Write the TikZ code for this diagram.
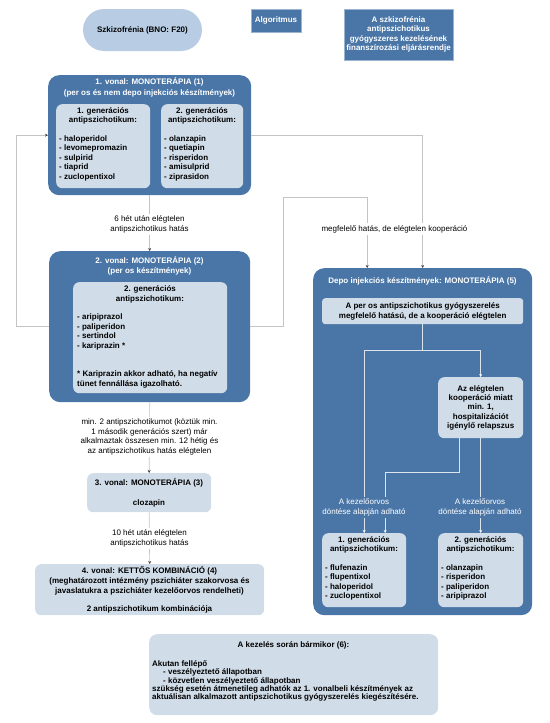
\documentclass[tikz,border=0pt]{standalone}
\usepackage{fontspec}
\setmainfont{Liberation Sans}
\usetikzlibrary{arrows.meta,calc}
\definecolor{dblue}{HTML}{4A76A7}
\definecolor{lblue}{HTML}{D0DCE8}
\definecolor{pblue}{HTML}{B8CDE4}
\definecolor{lgray}{HTML}{C4C4C4}
\definecolor{iline}{HTML}{DCE4EE}
\begin{document}
\begin{tikzpicture}[x=1pt,y=-1pt,
  every node/.style={font=\fontsize{8}{9.5}\selectfont, inner sep=0pt},
  darkbox/.style={fill=dblue, rounded corners=11pt, anchor=north west},
  lightbox/.style={fill=lblue, rounded corners=6pt, anchor=north west},
  btxt/.style={font=\fontsize{8}{9.5}\selectfont\bfseries, align=center},
  wtxt/.style={btxt, text=white},
  ltxt/.style={font=\fontsize{8}{9.5}\selectfont\bfseries, align=left, anchor=west},
  lbl/.style={font=\fontsize{8}{9.5}\selectfont, align=center, fill=white, inner sep=2pt},
  dlbl/.style={lbl, fill=dblue, text=white},
  conn/.style={draw=lgray, line width=0.7pt, -{Stealth[length=3pt,width=3pt,color=black!75]}},
  iconn/.style={draw=iline, line width=0.7pt, -{Stealth[length=3pt,width=3pt,color=white]}},
]
\useasboundingbox (0,0) rectangle (549,723);

% top row
\node[fill=pblue, rounded corners=21pt, minimum width=119pt, minimum height=42pt, btxt] (pill) at (142.5,30) {Szkizofrénia (BNO: F20)};
\node[fill=dblue, draw=dblue!55!white, line width=0.5pt, minimum width=50pt, minimum height=23pt, wtxt] (alg) at (276,20.5) {Algoritmus};
\node[fill=dblue, draw=dblue!55!white, line width=0.5pt, minimum width=109pt, minimum height=51pt, wtxt] (ttl) at (398.5,34.5) {A szkizofrénia\\antipszichotikus\\gyógyszeres kezelésének\\finanszírozási eljárásrendje};

% box 1
\node[darkbox, minimum width=203pt, minimum height=120pt] (b1) at (48,75) {};
\node[wtxt, font=\fontsize{8}{10.5}\selectfont\bfseries] (b1t) at (149.5,87.5) {1. vonal: MONOTERÁPIA (1)\\(per os és nem depo injekciós készítmények)};
\node[lightbox, minimum width=94pt, minimum height=84pt] (b1a) at (56,104) {};
\node[btxt] (b1ah) at (103,116) {1. generációs\\antipszichotikum:};
\node[ltxt] (b1al) at (59,158) {- haloperidol\\- levomepromazin\\- sulpirid\\- tiaprid\\- zuclopentixol};
\node[lightbox, minimum width=82pt, minimum height=84pt] (b1b) at (161,104) {};
\node[btxt] (b1bh) at (202,116) {2. generációs\\antipszichotikum:};
\node[ltxt] (b1bl) at (164,158) {- olanzapin\\- quetiapin\\- risperidon\\- amisulprid\\- ziprasidon};

% box 2
\node[darkbox, minimum width=201pt, minimum height=151pt] (b2) at (49,251) {};
\node[wtxt, font=\fontsize{8}{10}\selectfont\bfseries] (b2t) at (149.5,265.5) {2. vonal: MONOTERÁPIA (2)\\(per os készítmények)};
\node[lightbox, minimum width=154pt, minimum height=111pt] (b2a) at (73,282) {};
\node[btxt] (b2ah) at (150,294.5) {2. generációs\\antipszichotikum:};
\node[ltxt] (b2al) at (77,332) {- aripiprazol\\- paliperidon\\- sertindol\\- kariprazin *};
\node[ltxt] (b2an) at (77,379.5) {* Kariprazin akkor adható, ha negatív\\tünet fennállása igazolható.};

% box 3
\node[lightbox, minimum width=124pt, minimum height=39pt] (b3) at (87,473) {};
\node[btxt] (b3t) at (149,483) {3. vonal: MONOTERÁPIA (3)};
\node[btxt] (b3c) at (149,503) {clozapin};

% box 4
\node[lightbox, minimum width=229pt, minimum height=51pt] (b4) at (35,564) {};
\node[btxt, font=\fontsize{8}{10}\selectfont\bfseries] (b4t) at (149.5,581) {4. vonal: KETTŐS KOMBINÁCIÓ (4)\\(meghatározott intézmény pszichiáter szakorvosa és\\javaslatukra a pszichiáter kezelőorvos rendelheti)};
\node[btxt] (b4c) at (149.5,609) {2 antipszichotikum kombinációja};

% box 6
\node[lightbox, rounded corners=8pt, minimum width=289pt, minimum height=81pt] (b6) at (149,634) {};
\node[btxt] (b6t) at (293.5,645) {A kezelés során bármikor (6):};
\node[ltxt, font=\fontsize{8}{8.2}\selectfont\bfseries] (b6l) at (152,681) {Akutan fellépő\\\hspace*{11pt}- veszélyeztető állapotban\\\hspace*{11pt}- közvetlen veszélyeztető állapotban\\szükség esetén átmenetileg adhatók az 1. vonalbeli készítmények az\\aktuálisan alkalmazott antipszichotikus gyógyszerelés kiegészítésére.};

% depo box
\node[darkbox, minimum width=219pt, minimum height=347pt] (depo) at (313,268) {};
\node[wtxt] (dept) at (422.5,281) {Depo injekciós készítmények: MONOTERÁPIA (5)};
\node[lightbox, rounded corners=3pt, minimum width=201pt, minimum height=26pt, btxt] (dtop) at (322,298) {A per os antipszichotikus gyógyszerelés\\megfelelő hatású, de a kooperáció elégtelen};
\node[lightbox, minimum width=85pt, minimum height=61pt, btxt, font=\fontsize{8}{9.3}\selectfont\bfseries] (rel) at (438,377) {Az elégtelen\\kooperáció miatt\\min. 1,\\hospitalizációt\\igénylő relapszus};
\node[lightbox, minimum width=84pt, minimum height=74pt] (g1) at (322,533) {};
\node[btxt] (g1h) at (364,545) {1. generációs\\antipszichotikum:};
\node[ltxt] (g1l) at (325,582.5) {- flufenazin\\- flupentixol\\- haloperidol\\- zuclopentixol};
\node[lightbox, minimum width=85pt, minimum height=74pt] (g2) at (438,533) {};
\node[btxt] (g2h) at (480.5,545) {2. generációs\\antipszichotikum:};
\node[ltxt] (g2l) at (441,582.5) {- olanzapin\\- risperidon\\- paliperidon\\- aripiprazol};

% connectors left column
\draw[conn] (b1.south) -- (b2.north);
\draw[conn] (b2.south) -- (b3.north);
\draw[conn] (b3.south) -- (b4.north);
\draw[conn] (b2.west) -- ++(-33,0) |- (b1.west);
\coordinate (depoL) at ($(depo.north)+(-55.5,0)$);
\draw[conn] (b2.east) -- ++(33,0) |- ($(depoL)+(0,-71)$) -- (depoL);
\draw[conn] (b1.east) -| (depo.north);
\node[lbl] (l1) at (149.5,224.5) {6 hét után elégtelen\\antipszichotikus hatás};
\node[lbl] (l2) at (149.5,437) {min. 2 antipszichotikumot (köztük min.\\1 második generációs szert) már\\alkalmaztak összesen min. 12 hétig és\\az antipszichotikus hatás elégtelen};
\node[lbl] (l3) at (149.5,538.5) {10 hét után elégtelen\\antipszichotikus hatás};
\node[lbl] (l4) at (394.5,229) {megfelelő hatás, de elégtelen kooperáció};

% depo inner connectors
\coordinate (dj) at ($(dtop.south)+(0,26)$);
\draw[iconn] (dtop.south) -- (dj) -| (g1.north);
\draw[iconn] (dj) -| (rel.north);
\draw[iconn] (rel.south) -- (g2.north);
\draw[iconn] ($(rel.south)+(-21,0)$) -- ++(0,34) -| ($(g1.north)+(21,0)$);
\node[dlbl] (l5) at (364,507.5) {A kezelőorvos\\döntése alapján adható};
\node[dlbl] (l6) at (480,507.5) {A kezelőorvos\\döntése alapján adható};
\end{tikzpicture}
\end{document}
